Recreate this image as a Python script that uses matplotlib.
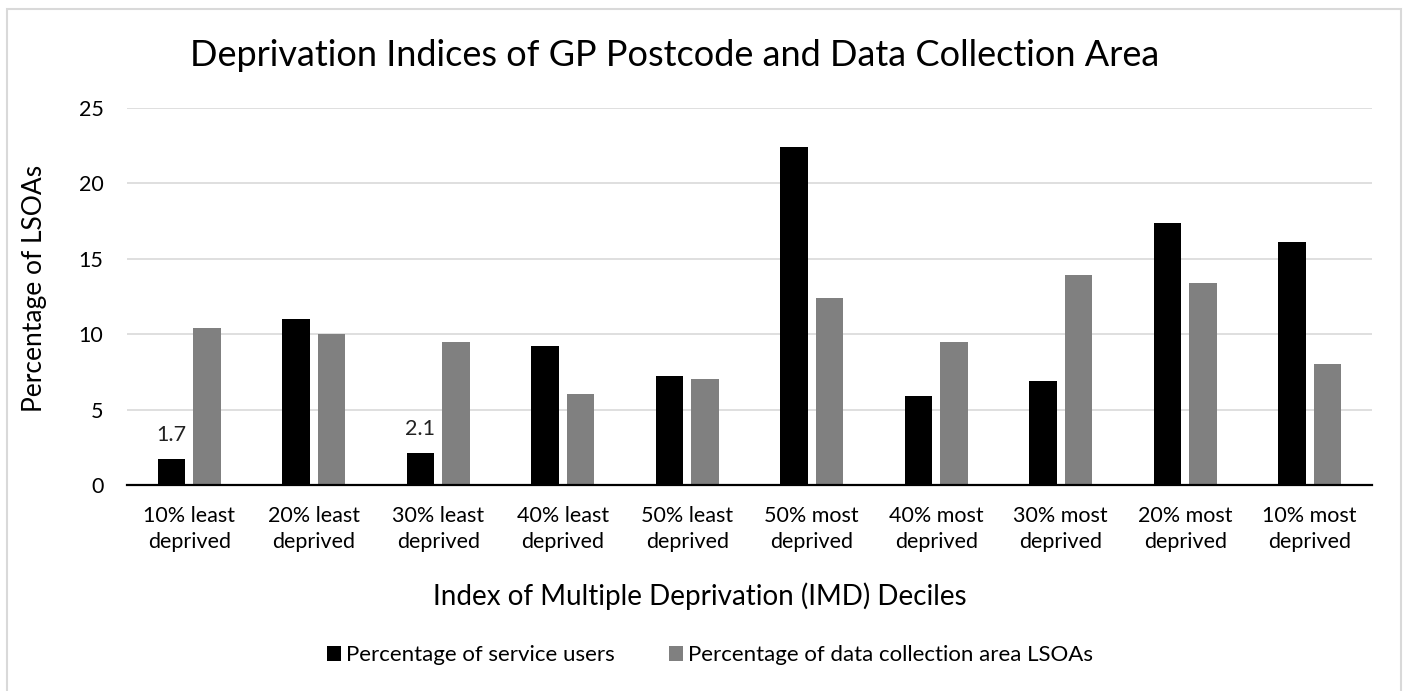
import matplotlib
matplotlib.use("Agg")
import matplotlib.pyplot as plt
import numpy as np
from matplotlib.patches import Rectangle

plt.rcParams['font.family'] = ['Lato', 'DejaVu Sans']

categories = ["10% least\ndeprived", "20% least\ndeprived", "30% least\ndeprived",
              "40% least\ndeprived", "50% least\ndeprived", "50% most\ndeprived",
              "40% most\ndeprived", "30% most\ndeprived", "20% most\ndeprived",
              "10% most\ndeprived"]
service_users = [1.7, 11.0, 2.1, 9.2, 7.2, 22.4, 5.9, 6.9, 17.4, 16.1]
area_lsoas = [10.4, 10.0, 9.5, 6.0, 7.0, 12.4, 9.5, 13.9, 13.4, 8.0]
label_idx = [0, 2]
yticks = [0, 5, 10, 15, 20, 25]

fig = plt.figure(figsize=(14.06, 6.91), dpi=100)
ax = fig.add_axes([127/1406, 1-485/691, (1372-127)/1406, (485-107.9)/691])

x = np.arange(len(categories))
w = 0.22
off = 0.143
b1 = ax.bar(x - off, service_users, w, color='black', label='Percentage of service users', zorder=3)
b2 = ax.bar(x + off, area_lsoas, w, color='#808080', label='Percentage of data collection area LSOAs', zorder=3)

for i in label_idx:
    ax.text(x[i] - off, service_users[i] + 1.63, f"{service_users[i]:.1f}", ha='center', va='center',
            fontsize=15.5, color='#222222')

ax.set_xlim(-0.5, len(categories) - 0.5)
ax.set_ylim(0, 25)
ax.set_yticks(yticks)
ax.set_xticks(x)
ax.set_xticklabels(categories, fontsize=15.5, linespacing=1.38)
ax.tick_params(axis='y', labelsize=15.5, length=0, pad=17)
ax.tick_params(axis='x', length=0, pad=15)
ax.yaxis.grid(True, color='#d9d9d9', linewidth=1.2, zorder=0)
ax.set_axisbelow(True)
for s in ['top', 'right', 'left']:
    ax.spines[s].set_visible(False)
ax.spines['bottom'].set_linewidth(1.6)
ax.spines['bottom'].set_zorder(4)

fig.text(35/1406, 1-288/691, "Percentage of LSOAs", rotation=90, ha='center', va='center', fontsize=19)
fig.text(700/1406, 1-596/691, "Index of Multiple Deprivation (IMD) Deciles", ha='center', va='center', fontsize=20)
fig.text(675/1406, 1-55/691, "Deprivation Indices of GP Postcode and Data Collection Area",
         ha='center', va='center', fontsize=26)

fig.legend(handles=[b1, b2], loc='center', bbox_to_anchor=(710/1406, 1-655/691), ncol=2,
           frameon=False, fontsize=16, handlelength=0.64, handleheight=0.64,
           handletextpad=0.25, columnspacing=2.4)

fig.patches.append(Rectangle((7/1406, -0.05), (1400.5-7)/1406, 1.05 - 9/691, transform=fig.transFigure,
                             fill=False, edgecolor='#d9d9d9', linewidth=1.5))

fig.savefig("out.png", dpi=100)
